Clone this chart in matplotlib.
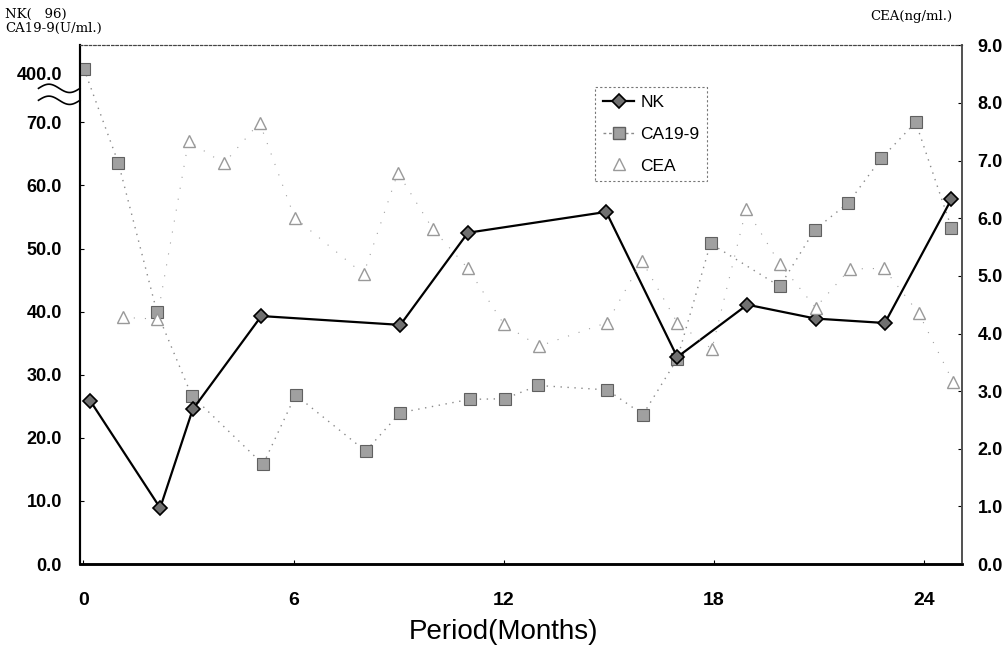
import numpy as np
import matplotlib
matplotlib.use('Agg')
import matplotlib.pyplot as plt
from matplotlib.lines import Line2D

# values
nk_month = [0.19, 2.19, 3.12, 5.08, 9.05, 10.98, 14.93, 16.96, 18.96, 20.91, 22.89, 24.79]
nk_val = [25.9, 8.9, 24.5, 39.3, 37.9, 52.5, 55.8, 32.8, 41.1, 38.9, 38.2, 57.8]

ca_month = [0.01, 1.0, 2.1, 3.09, 5.13, 6.06, 8.06, 9.05, 11.03, 12.03, 12.99,
            14.96, 15.98, 16.96, 17.91, 19.89, 20.89, 21.84, 22.79, 23.77, 24.79]
ca_val = [430, 63.5, 39.9, 26.7, 15.8, 26.8, 17.9, 24.0, 26.1, 26.2, 28.3,
          27.6, 23.7, 32.5, 50.8, 44.0, 53.0, 57.2, 64.3, 70.3, 53.3]

cea_month = [1.12, 2.1, 3.0, 4.01, 5.03, 6.03, 8.0, 8.98, 9.98, 10.98, 12.01, 13.01,
             14.96, 15.95, 16.96, 17.95, 18.93, 19.89, 20.91, 21.89, 22.86, 23.86, 24.84]
cea_val = [4.28, 4.25, 7.34, 6.95, 7.66, 6.01, 5.03, 6.79, 5.81, 5.13, 4.16, 3.78,
           4.19, 5.26, 4.19, 3.73, 6.16, 5.21, 4.45, 5.12, 5.13, 4.35, 3.16]

x_ticks = [0, 6, 12, 18, 24]
left_ticks = [0, 10, 20, 30, 40, 50, 60, 70, 400]
right_ticks = [0, 1, 2, 3, 4, 5, 6, 7, 8, 9]

# broken left axis: 70..400 squeezed into a short band
def fwd(v):
    v = np.asarray(v, dtype=float)
    return np.where(v <= 70, v, 70 + (v - 70) * 7.8 / 330)

def inv(t):
    t = np.asarray(t, dtype=float)
    return np.where(t <= 70, t, 70 + (t - 70) * 330 / 7.8)

sans = ['Liberation Sans', 'DejaVu Sans']
serif = ['DejaVu Serif']
tsize = 13

fig = plt.figure(figsize=(10.06, 6.66), dpi=100)
ax = fig.add_axes([0.0795, 0.153, 0.877, 0.779])
ax2 = ax.twinx()

ax.set_yscale('function', functions=(fwd, inv))
ax.set_ylim(0, float(inv(82.2)))
ax.set_xlim(-0.1, 25.1)
ax2.set_ylim(0, 9)

ax.plot(ca_month, ca_val, color='#8a8a8a', lw=1.0, ls=(0, (1, 4)),
        marker='s', ms=8, mfc='#a0a0a0', mec='#606060', mew=0.8, zorder=3)
ax.plot(nk_month, nk_val, color='black', lw=1.6,
        marker='D', ms=7, mfc='#707070', mec='black', mew=1.2, zorder=4)
ax2.plot(cea_month, cea_val, color='#a0a0a0', lw=0.8, ls=(0, (1, 9)),
         marker='^', ms=9, mfc='white', mec='#999999', mew=1.0, zorder=3)

ax.set_xticks(x_ticks)
ax.set_xticklabels([str(t) for t in x_ticks], fontfamily=sans, fontweight='bold', fontsize=14)
ax.set_yticks(left_ticks)
ax.set_yticklabels(['%.1f' % t for t in left_ticks], fontfamily=sans, fontweight='bold', fontsize=tsize)
ax.yaxis.set_minor_locator(matplotlib.ticker.NullLocator())
ax2.set_yticks(right_ticks)
ax2.set_yticklabels(['%.1f' % t for t in right_ticks], fontfamily=sans, fontweight='bold', fontsize=tsize)

ax.tick_params(axis='x', direction='in', length=3, pad=20)
ax.tick_params(axis='y', direction='in', length=3, pad=13)
ax2.tick_params(axis='y', direction='in', length=3, pad=11)

for a in (ax, ax2):
    a.spines['top'].set_linestyle((0, (2, 2)))
    a.spines['top'].set_linewidth(0.8)
    a.spines['top'].set_color('#444444')
    a.spines['left'].set_linewidth(1.5)
    a.spines['bottom'].set_linewidth(1.8)
    a.spines['right'].set_linewidth(1.4)
    a.spines['right'].set_color('#555555')

# break marks on the left axis
wx = np.linspace(-0.047, 0.0, 40)
wave = 0.008 * np.sin((wx + 0.047) / 0.047 * 2 * np.pi)
ax.plot(wx, 0.917 + wave, color='black', lw=1.2, transform=ax.transAxes, clip_on=False)
ax.plot(wx, 0.894 + wave, color='black', lw=1.2, transform=ax.transAxes, clip_on=False)

ax.set_xlabel('Period(Months)', fontfamily=sans, fontsize=20)
ax.xaxis.set_label_coords(0.48, -0.105)

fig.text(0.005, 0.978, 'NK(   96)', fontfamily=serif, fontsize=9.5, va='center')
fig.text(0.005, 0.957, 'CA19-9(U/ml.)', fontfamily=serif, fontsize=9.5, va='center')
fig.text(0.865, 0.975, 'CEA(ng/ml.)', fontfamily=serif, fontsize=9.5, va='center')

handles = [
    Line2D([], [], color='black', lw=1.6, marker='D', ms=7, mfc='#707070', mec='black', mew=1.2),
    Line2D([], [], color='#8a8a8a', lw=1.0, ls=(0, (2, 2)), marker='s', ms=8, mfc='#a0a0a0', mec='#606060'),
    Line2D([], [], color='none', marker='^', ms=9, mfc='white', mec='#999999'),
]
leg = ax.legend(handles, ['NK', 'CA19-9', 'CEA'], loc='upper left', bbox_to_anchor=(0.584, 0.919),
                borderaxespad=0, prop={'family': sans, 'size': 12.5}, frameon=True, fancybox=False,
                handlelength=1.8, labelspacing=0.95, borderpad=0.45, handletextpad=0.35)
leg.get_frame().set_edgecolor('#555555')
leg.get_frame().set_linestyle((0, (2, 2)))
leg.get_frame().set_linewidth(0.8)

fig.savefig('out.png', dpi=100)
